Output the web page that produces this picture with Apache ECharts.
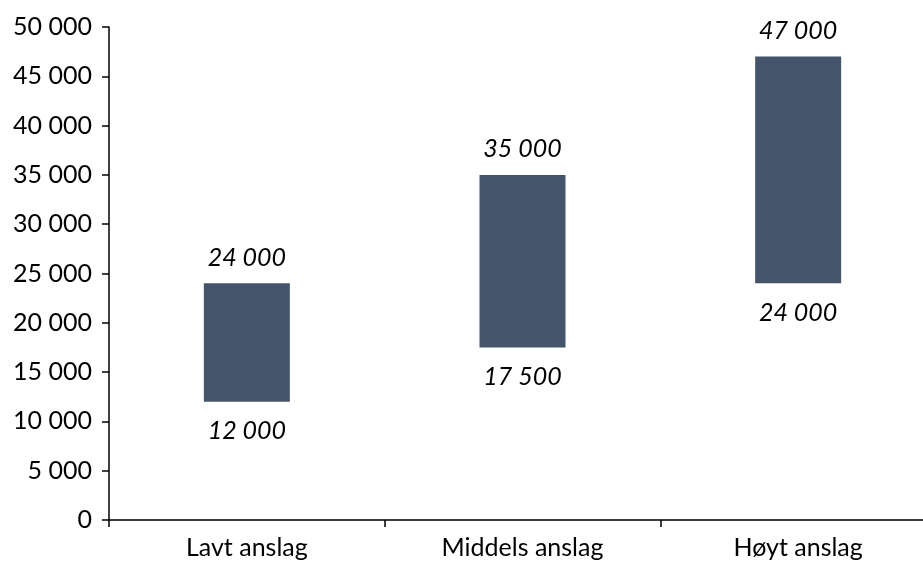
<!DOCTYPE html>
<html>
<head>
<meta charset="utf-8">
<script src="https://cdn.jsdelivr.net/npm/echarts@6/dist/echarts.min.js"></script>
<style>
html,body{margin:0;padding:0;background:#fff;overflow:hidden;}
#wrap{width:923px;height:568px;overflow:hidden;}
#chart{width:936px;height:568px;}
</style>
</head>
<body>
<div id="wrap"><div id="chart"></div></div>
<script>
const categories = ['Lavt anslag', 'Middels anslag', 'Høyt anslag'];
const lowValues = [12000, 17500, 24000];
const highValues = [24000, 35000, 47000];
const yTicks = [0, 5000, 10000, 15000, 20000, 25000, 30000, 35000, 40000, 45000, 50000];

function fmt(v) {
  return String(v).replace(/\B(?=(\d{3})+(?!\d))/g, ' ');
}

const rangeValues = highValues.map((h, i) => h - lowValues[i]);
const FONT = 'Lato';
const FS = 25;
const chart = echarts.init(document.getElementById('chart'));
chart.setOption({
  animation: false,
  backgroundColor: '#ffffff',
  grid: { left: 109, right: 0, top: 27, bottom: 48, containLabel: false },
  xAxis: {
    type: 'category',
    data: categories,
    boundaryGap: true,
    axisLine: { lineStyle: { color: '#000', width: 1.5 } },
    axisTick: { show: true, length: 7, alignWithLabel: false, lineStyle: { color: '#000', width: 1.5 } },
    axisLabel: { color: '#000', fontFamily: FONT, fontSize: FS, margin: 15 }
  },
  yAxis: {
    type: 'value',
    min: yTicks[0],
    max: yTicks[yTicks.length - 1],
    interval: yTicks[1] - yTicks[0],
    splitLine: { show: false },
    axisLine: { show: true, lineStyle: { color: '#000', width: 1.5 } },
    axisTick: { show: true, length: 7, lineStyle: { color: '#000', width: 1.5 } },
    axisLabel: { color: '#000', fontFamily: FONT, fontSize: FS, margin: 17, formatter: v => fmt(v) }
  },
  series: [
    {
      type: 'bar',
      stack: 'range',
      data: lowValues,
      barWidth: 86,
      itemStyle: { color: 'transparent' },
      label: {
        show: true,
        position: 'insideTop',
        distance: 17,
        color: '#000',
        fontFamily: FONT,
        fontSize: FS,
        fontStyle: 'italic',
        formatter: p => fmt(lowValues[p.dataIndex])
      },
      silent: true
    },
    {
      type: 'bar',
      stack: 'range',
      data: rangeValues,
      barWidth: 86,
      itemStyle: { color: '#44546A' },
      label: {
        show: true,
        position: 'top',
        distance: 13,
        color: '#000',
        fontFamily: FONT,
        fontSize: FS,
        fontStyle: 'italic',
        formatter: p => fmt(highValues[p.dataIndex])
      }
    }
  ]
});
</script>
</body>
</html>
